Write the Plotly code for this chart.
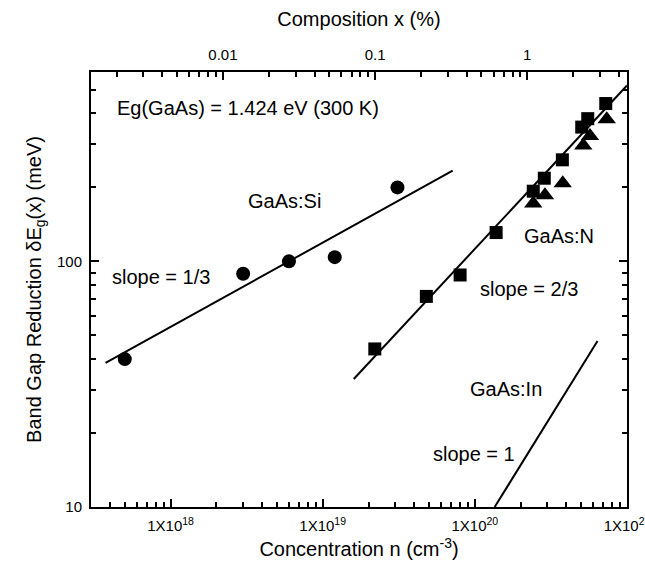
import numpy as np
import plotly.graph_objects as go

# ---- data ----
si_n = [5.0e17, 3.0e18, 6.0e18, 1.2e19, 3.1e19]
si_e = [40, 89, 100, 104, 200]

n_sq_n = [2.2e19, 4.8e19, 8.0e19, 1.38e20, 2.42e20, 2.86e20, 3.76e20, 5.04e20, 5.52e20, 7.25e20]
n_sq_e = [44, 72, 88, 131, 193, 218, 259, 352, 381, 439]

n_tri_n = [2.42e20, 2.89e20, 3.78e20, 5.16e20, 5.71e20, 7.36e20]
n_tri_e = [172, 186, 208, 296, 324, 379]

si_fit_n = [3.74e17, 7.15e19]
si_fit_e = [38.6, 234]
n_fit_n = [1.6e19, 1.0e21]
n_fit_e = [33.2, 520]
in_fit_n = [1.35e20, 6.4e20]
in_fit_e = [10, 47.4]

# ---- axes / ticks ----
n_range = [3.0e17, 1.0e21]
e_range = [10, 590]
n_as = 2.21e22  # As sites per cm^3 in GaAs, composition x(%) = n / n_as * 100

x_major = [1e18, 1e19, 1e20, 1e21]
x_major_text = ["1X10<sup>18</sup>", "1X10<sup>19</sup>", "1X10<sup>20</sup>", "1X10<sup>21</sup>"]
x_minor = [m * 10.0 ** d for d in range(17, 21) for m in range(2, 10)]

comp_major = [0.01, 0.1, 1]
comp_major_text = ["0.01", "0.1", "1"]
comp_minor = [m * 10.0 ** d for d in range(-3, 1) for m in range(2, 10)]

y_major = [10, 100]
y_major_text = ["10", "100"]
y_minor = [m * 10.0 ** d for d in range(1, 3) for m in range(2, 10)]

FONT = "Liberation Sans, Arial, sans-serif"
BLACK = "#000000"

fig = go.Figure()

line_style = dict(color=BLACK, width=2)
fig.add_trace(go.Scatter(x=si_fit_n, y=si_fit_e, mode="lines", line=line_style, showlegend=False))
fig.add_trace(go.Scatter(x=n_fit_n, y=n_fit_e, mode="lines", line=line_style, showlegend=False))
fig.add_trace(go.Scatter(x=in_fit_n, y=in_fit_e, mode="lines", line=line_style, showlegend=False))

fig.add_trace(go.Scatter(x=si_n, y=si_e, mode="markers",
                         marker=dict(symbol="circle", size=14, color=BLACK), showlegend=False))
fig.add_trace(go.Scatter(x=n_tri_n, y=n_tri_e, mode="markers",
                         marker=dict(symbol="triangle-up", size=16, color=BLACK), showlegend=False))
fig.add_trace(go.Scatter(x=n_sq_n, y=n_sq_e, mode="markers",
                         marker=dict(symbol="square", size=13, color=BLACK), showlegend=False))

# invisible trace so the top (composition) axis is drawn
comp_range = [v / n_as * 100 for v in n_range]
fig.add_trace(go.Scatter(x=comp_range, y=[20, 20], xaxis="x2", mode="markers",
                         marker=dict(opacity=0), hoverinfo="skip", showlegend=False))

tick_common = dict(ticks="inside", ticklen=8, tickwidth=1.5, tickcolor=BLACK,
                   showgrid=False, showline=True, linecolor=BLACK, linewidth=2,
                   ticklabeloverflow="allow", automargin=False,
                   tickfont=dict(family=FONT, size=15, color=BLACK))

fig.update_layout(
    width=645, height=574,
    margin=dict(l=91, r=18, t=72, b=67, autoexpand=False),
    paper_bgcolor="white", plot_bgcolor="white",
    font=dict(family=FONT, color=BLACK),
    xaxis=dict(type="log", range=[np.log10(n_range[0]), np.log10(n_range[1])],
               tickmode="array", tickvals=x_major, ticktext=x_major_text,
               minor=dict(tickmode="array", tickvals=x_minor, ticks="inside",
                          ticklen=5, tickwidth=1.5, tickcolor=BLACK, showgrid=False),
               title=dict(text="Concentration n (cm<sup>-3</sup>)",
                          font=dict(family=FONT, size=20, color=BLACK), standoff=9),
               ticklabelstandoff=4,
               **tick_common),
    xaxis2=dict(type="log", overlaying="x", side="top", anchor="y",
                range=[np.log10(comp_range[0]), np.log10(comp_range[1])],
                tickmode="array", tickvals=comp_major, ticktext=comp_major_text,
                minor=dict(tickmode="array", tickvals=comp_minor, ticks="inside",
                           ticklen=5, tickwidth=1.5, tickcolor=BLACK, showgrid=False),
                title=dict(text="Composition x (%)",
                           font=dict(family=FONT, size=20, color=BLACK), standoff=14),
                ticklabelstandoff=4,
                **tick_common),
    yaxis=dict(type="log", range=[np.log10(e_range[0]), np.log10(e_range[1])],
               tickmode="array", tickvals=y_major, ticktext=y_major_text,
               minor=dict(tickmode="array", tickvals=y_minor, ticks="inside",
                          ticklen=5, tickwidth=1.5, tickcolor=BLACK, showgrid=False),
               mirror="ticks",
               title=dict(text="Band Gap Reduction δE<sub>g</sub>(x) (meV)",
                          font=dict(family=FONT, size=20, color=BLACK), standoff=10),
               ticklabelstandoff=4,
               **tick_common),
)

ann_font = dict(family=FONT, size=20, color=BLACK)
notes = [
    ("Eg(GaAs) = 1.424 eV (300 K)", 4.29e17, 423, "left"),
    ("GaAs:Si", 5.61e18, 176, "center"),
    ("slope = 1/3", 8.65e17, 86.6, "center"),
    ("GaAs:N", 3.56e20, 126.5, "center"),
    ("slope = 2/3", 2.26e20, 77, "center"),
    ("GaAs:In", 1.6e20, 30.2, "center"),
    ("slope = 1", 9.8e19, 16.4, "center"),
]
for text, xv, yv, anchor in notes:
    fig.add_annotation(text=text, x=np.log10(xv), y=np.log10(yv), xref="x", yref="y",
                       xanchor=anchor, yanchor="middle", showarrow=False, font=ann_font)

fig.write_html("out.html")
